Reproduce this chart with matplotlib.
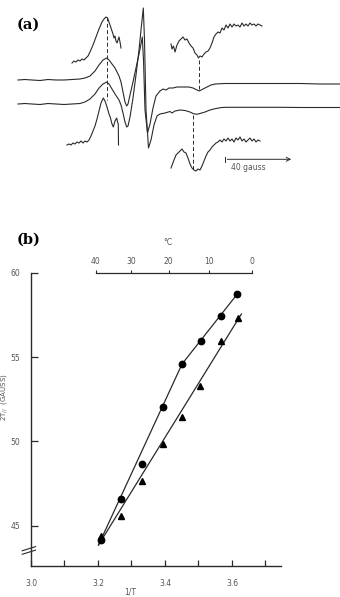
import numpy as np
import matplotlib.pyplot as plt

# ---- (a) ESR spectra, positions (field axis left->right, signal downwards) ----
top_left_field = [72, 74, 76, 78, 80, 82, 84, 86, 88, 90, 93, 96, 99, 102, 104, 106, 107.5, 109,
                  111, 113, 114, 115, 116, 117, 118, 119, 120, 121]
top_left_sig = [63, 61, 62, 60, 61, 59, 60, 58, 56, 52, 45, 37, 29, 22, 19, 17, 18, 22,
                28, 34, 38, 36, 41, 43, 40, 37, 42, 48]

top_right_field = [171, 172, 173.5, 175, 177, 179, 181, 183, 185, 187, 189, 191, 193, 195, 197,
                   198.5, 200, 202, 204, 206, 208, 210, 212, 214, 216, 218, 220, 222, 224, 226,
                   228, 230, 232, 234, 236, 238, 240, 242, 244, 246, 248, 250, 252, 254, 256,
                   258, 260, 262]
top_right_sig = [44, 49, 46, 52, 45, 41, 39, 37, 40, 39, 43, 46, 48, 53, 55,
                 58, 56, 57, 54, 52, 51, 48, 43, 37, 34, 32, 33, 28, 30, 25,
                 28, 24, 27, 24, 26, 25, 27, 23, 26, 24, 26, 23, 25, 24, 26,
                 24, 25, 26]

trace_a_field = [18, 25, 32, 40, 48, 56, 64, 72, 80, 85, 90, 95, 99, 103, 106.7, 109, 112, 115,
                 117, 119, 121, 123, 125, 126.7, 128, 130, 133, 136, 139, 141, 142.3, 143.5,
                 145, 147.5, 150, 153, 156, 160, 163, 166, 169, 173, 177, 181, 185, 189, 193,
                 196, 199.3, 203, 207, 211, 215, 225, 240, 260, 280, 300, 320, 340]
trace_a_sig = [80, 79.5, 80, 80.5, 79.5, 80, 80, 79.5, 79, 78, 76, 71, 65, 60, 58, 60, 64, 68,
               72, 76, 82, 92, 102, 106, 104, 95, 82, 68, 54, 44, 37, 60,
               110, 133, 124, 108, 96, 91, 89, 90, 88, 88, 87, 87, 87, 87, 88,
               89.5, 91, 89, 87, 85, 84, 83.5, 83.5, 83.5, 83.5, 83.5, 84, 84]

trace_b_field = [18, 25, 32, 40, 48, 56, 64, 72, 80, 85, 90, 95, 99, 103, 106.7, 109, 112, 115,
                 117, 119, 121, 123, 125, 126.7, 128, 130, 133, 136, 139, 141, 143.3, 144.5,
                 146, 148.5, 151, 154, 157, 160, 165, 170, 172, 175, 180, 185, 190, 193,
                 196.7, 200, 205, 210, 216, 222, 227, 240, 260, 280, 300, 320, 340]
trace_b_sig = [104, 103.5, 104, 104.5, 103.5, 104, 104.5, 104, 103.5, 102, 99, 94, 88, 84, 82,
               84, 89, 94, 97, 100, 105, 113, 122, 127, 126, 117, 98, 75, 50, 30, 8, 40,
               110, 148, 140, 125, 116, 114, 113, 111.5, 113, 111, 110, 110.5, 112, 113.5,
               114.3, 113.5, 112, 110, 108.5, 107.5, 107.3, 107.3, 107.3, 107.3, 107.5,
               107.5, 107.5]

bot_left_field = [67, 69, 71, 73, 75, 77, 79, 81, 83, 85, 87, 89, 91, 93, 95, 97, 99, 101,
                  103.3, 105, 107, 109, 110.5, 112, 113.3, 115, 116.7, 117.5, 118.3, 118.5]
bot_left_sig = [145, 144, 145, 143, 144, 142, 143, 141, 143, 141, 142, 140, 136, 131, 126,
                119, 111, 103, 98, 101, 107, 114, 118, 124, 127, 121, 118, 122, 124, 145]

bot_right_field = [171, 172.5, 174, 176, 178, 180, 182, 184, 186, 188, 190, 192, 194, 196, 198,
                   200, 202, 204, 206, 208, 210, 212, 214, 216, 218, 220, 222, 224, 226, 228,
                   230, 232, 234, 236, 238, 240, 242, 244, 246, 248, 250, 252, 254, 256, 258,
                   260]
bot_right_sig = [168, 164, 160, 155, 153, 151, 149, 152, 153, 158, 164, 168, 170, 171, 169,
                 170, 166, 161, 156, 152, 150, 147, 145, 143, 142, 140, 142, 139, 141, 138,
                 141, 139, 142, 138, 140, 137, 141, 139, 142, 140, 138, 141, 139, 142, 140,
                 141]

# dashed guide lines: field position, start, end
guide_field = [107, 199.3, 193.3]
guide_top = [17, 60, 115]
guide_bottom = [100, 91, 170]

# ---- (b) 2T// vs 1/T ----
inv_T_circles = [3.210, 3.270, 3.331, 3.393, 3.451, 3.506, 3.566, 3.616]
T_par_circles = [44.16, 46.57, 48.66, 52.02, 54.59, 55.97, 57.43, 58.74]
inv_T_triangles = [3.210, 3.269, 3.330, 3.393, 3.450, 3.504, 3.567, 3.618]
T_par_triangles = [44.39, 45.58, 47.67, 49.86, 51.46, 53.30, 55.97, 57.30]
circle_fit_x = [3.2015, 3.451, 3.616]
circle_fit_y = [43.86, 54.59, 58.74]
triangle_fit_x = [3.2015, 3.628]
triangle_fit_y = [43.86, 57.55]
celsius_ticks = [40, 30, 20, 10, 0]

W, H = 340, 597
ink = '#2a2a2a'
fig = plt.figure(figsize=(W / 100, H / 100), dpi=100)

# panel (a)
axa = fig.add_axes([0, 1 - 200 / H, 1, 200 / H])
axa.set_xlim(0, W)
axa.set_ylim(200, 0)
axa.axis('off')
for fx, sy in [(top_left_field, top_left_sig), (top_right_field, top_right_sig),
               (trace_a_field, trace_a_sig), (trace_b_field, trace_b_sig),
               (bot_left_field, bot_left_sig), (bot_right_field, bot_right_sig)]:
    axa.plot(fx, sy, color=ink, lw=0.8)
for gx, g0, g1 in zip(guide_field, guide_top, guide_bottom):
    axa.plot([gx, gx], [g0, g1], color=ink, lw=0.7, ls=(0, (4, 2.5)))
# 40 gauss scale bar
axa.annotate('', xy=(294, 159.3), xytext=(224.5, 159.3),
             arrowprops=dict(arrowstyle='->', color=ink, lw=0.7, mutation_scale=7))
axa.plot([225, 225], [156.5, 162], color=ink, lw=0.7)
axa.text(248, 167.5, '40 gauss', fontsize=5.5, color='#555555', ha='center', va='center')
fig.text(17 / W, 1 - 25 / H, '(a)', fontsize=10.5, fontweight='bold', family='DejaVu Serif',
         va='center', ha='left')

# panel (b)
ax = fig.add_axes([31 / W, 31 / H, 250 / W, 293.3 / H])
ax.plot(circle_fit_x, circle_fit_y, color=ink, lw=0.9)
ax.plot(triangle_fit_x, triangle_fit_y, color=ink, lw=0.9)
ax.plot(inv_T_circles, T_par_circles, 'o', color='black', ms=4.6)
ax.plot(inv_T_triangles, T_par_triangles, '^', color='black', ms=4.2)

ax.set_xlim(3.0, 3.0 + 250 / 335)
ax.set_ylim(60 - 293.3 / 16.87, 60)
for s in ['top', 'right']:
    ax.spines[s].set_visible(False)
for s in ['left', 'bottom']:
    ax.spines[s].set_linewidth(1.0)
    ax.spines[s].set_color(ink)
ax.set_xticks([3.0, 3.2, 3.4, 3.6])
ax.set_xticklabels(['3.0', '3.2', '3.4', '3.6'])
ax.set_xticks([3.1, 3.3, 3.5, 3.7], minor=True)
ax.set_yticks([45, 50, 55, 60])
ax.tick_params(axis='x', which='both', direction='in', length=4, width=0.9, color=ink,
               labelsize=5.5, labelcolor='#555555', pad=9)
ax.tick_params(axis='y', direction='in', length=5, width=0.9, color=ink,
               labelsize=5.5, labelcolor='#555555', pad=8)

# axis break marks
for dy in [0, 0.012]:
    ax.plot([-0.035, 0.018], [0.040 + dy, 0.054 + dy], transform=ax.transAxes,
            color=ink, lw=0.8, clip_on=False)

# temperature scale on top
def to_celsius(x):
    return 1000.0 / np.asarray(x, dtype=float) - 273.15

def to_inv_T(c):
    return 1000.0 / (np.asarray(c, dtype=float) + 273.15)

sec = ax.secondary_xaxis('top', functions=(to_celsius, to_inv_T))
sec.set_xticks(celsius_ticks)
sec.set_xticklabels([str(c) for c in celsius_ticks])
sec.spines['top'].set_bounds(0, 40)
sec.spines['top'].set_linewidth(0.9)
sec.spines['top'].set_color(ink)
sec.tick_params(direction='out', length=2.5, width=0.8, color=ink, labelsize=5.5,
                labelcolor='#555555', pad=2)

fig.text(168 / W, 1 - 242 / H, '°C', fontsize=5.5, color='#555555', ha='center', va='center')
fig.text(130 / W, 1 - 592 / H, '1/T', fontsize=5.5, color='#555555', ha='center', va='center')
fig.text(5 / W, 1 - 397 / H, '2T$_{//}$  (GAUSS)', fontsize=5, color='#555555', rotation=90,
         ha='center', va='center')
fig.text(17 / W, 1 - 240 / H, '(b)', fontsize=10.5, fontweight='bold', family='DejaVu Serif',
         va='center', ha='left')

fig.savefig('out.png', dpi=100)
